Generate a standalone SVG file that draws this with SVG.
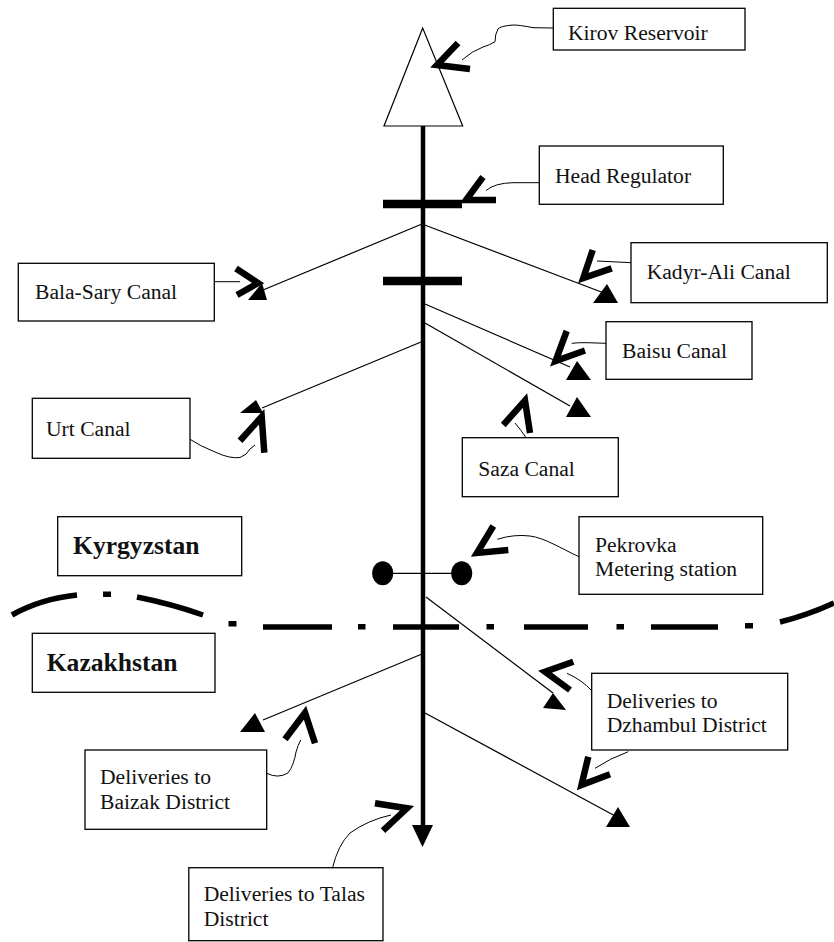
<svg xmlns="http://www.w3.org/2000/svg" width="834" height="942" viewBox="0 0 834 942">
<style>
.box{fill:#fff;stroke:#000;stroke-width:1.3}
.t{font-family:"Liberation Serif","Times New Roman",serif;font-size:21.6px;fill:#111}
.b{font-family:"Liberation Serif","Times New Roman",serif;font-size:25.6px;font-weight:bold;fill:#111}
.thin{fill:none;stroke:#000;stroke-width:1.2}
.lead{fill:none;stroke:#000;stroke-width:1}
.chev{fill:none;stroke:#000;stroke-width:6.5;stroke-linejoin:miter;stroke-linecap:butt}
.ah{fill:#000}
.bar{stroke:#000;stroke-width:8.5}
.border{fill:none;stroke:#000;stroke-width:5.5}
</style>
<rect width="834" height="942" fill="#fff"/>

<g id="river">
<polygon points="422.7,28 384,126 462.7,126" fill="#fff" stroke="#000" stroke-width="1.2"/>
<line x1="423" y1="126" x2="423" y2="827" stroke="#000" stroke-width="4.5"/>
<polygon class="ah" points="412,825 433,825 422.5,847"/>
<line class="bar" x1="383" y1="204" x2="462" y2="204"/>
<line class="bar" x1="383" y1="281" x2="462" y2="281"/>
</g>

<g id="border">
<path class="border" d="M12,615 Q40,599 77,595"/>
<rect x="103" y="591.5" width="8" height="5.5"/>
<path class="border" d="M137,597 Q172,604 203,615"/>
<rect x="228.5" y="621" width="8" height="5.5"/>
<line class="border" x1="263" y1="627" x2="332" y2="627"/>
<rect x="358" y="624" width="7.5" height="5.5"/>
<line class="border" x1="393" y1="627" x2="459" y2="627" stroke-width="6.5"/>
<rect x="486.5" y="624" width="7.5" height="5.5"/>
<line class="border" x1="524" y1="627" x2="588" y2="627"/>
<rect x="616.5" y="624" width="7.5" height="5.5"/>
<line class="border" x1="651" y1="627" x2="718" y2="627"/>
<rect x="745" y="623" width="8" height="5.5"/>
<path class="border" d="M780,622 Q808,615 834,603"/>
</g>

<g id="connectors">
<line class="thin" x1="422" y1="224" x2="604" y2="293"/>
<polygon class="ah" points="593,303 618,303 607,284"/>
<line class="thin" x1="422" y1="224" x2="263" y2="290"/>
<polygon class="ah" points="248,300 267,300 262,283"/>
<line class="thin" x1="425" y1="304" x2="570" y2="367"/>
<polygon class="ah" points="566,380 591,380 577,361"/>
<line class="thin" x1="425" y1="323" x2="570" y2="406"/>
<polygon class="ah" points="566,417 591,417 577,397"/>
<line class="thin" x1="421" y1="342" x2="262" y2="408"/>
<polygon class="ah" points="240,413 263,413 256,400"/>
<line class="thin" x1="383" y1="573.3" x2="462" y2="573.3"/>
<line class="thin" x1="426" y1="597" x2="553" y2="693"/>
<polygon class="ah" points="543,708 566,710 553,693"/>
<line class="thin" x1="422" y1="654" x2="263" y2="720"/>
<polygon class="ah" points="240,732 265,732 255,713"/>
<line class="thin" x1="425" y1="713" x2="617" y2="817"/>
<polygon class="ah" points="606,827 630,827 618,807"/>
</g>

<g id="station">
<ellipse cx="382.7" cy="573.3" rx="10.5" ry="12"/>
<ellipse cx="461.7" cy="573.3" rx="10.5" ry="12"/>
</g>

<g id="kirov">
<rect class="box" x="553.3" y="8.3" width="191.7" height="41.7"/>
<text class="t" x="568" y="39.5">Kirov Reservoir</text>
<path class="lead" d="M553,28 L533,27.7 Q520,25 513,25 Q500,26 498,29 Q495,34 495,41.7 Q490,45 483,47 Q472,51 462,60"/>
<polyline class="chev" points="458,43 437,65 470,69"/>
</g>

<g id="head-regulator">
<rect class="box" x="539.3" y="146" width="184" height="58.3"/>
<text class="t" x="555" y="182.5">Head Regulator</text>
<path class="lead" d="M539,182.7 L513,182.7 Q495,183 486,190.5"/>
<polyline class="chev" points="483,177 466,200 496,200"/>
</g>

<g id="kadyr-ali">
<rect class="box" x="631" y="242.7" width="196.3" height="60"/>
<text class="t" x="646.7" y="279">Kadyr-Ali Canal</text>
<path class="lead" d="M631,262.7 L597,261"/>
<polyline class="chev" points="592.7,250 583.3,278 611.7,268.3"/>
</g>

<g id="bala-sary">
<rect class="box" x="18.3" y="263.3" width="196" height="57.7"/>
<text class="t" x="35" y="298.5">Bala-Sary Canal</text>
<path class="lead" d="M214.3,281.7 L240,281.7"/>
<polyline class="chev" points="236,268.5 258,283 237,295"/>
</g>

<g id="baisu">
<rect class="box" x="606" y="321.7" width="146" height="57.6"/>
<text class="t" x="622" y="357.5">Baisu Canal</text>
<path class="lead" d="M606,343.3 L587,342.7 Q578,342.5 571.7,343.3"/>
<polyline class="chev" points="566.7,331 555.5,361 585,350.5"/>
</g>

<g id="saza">
<rect class="box" x="462.3" y="437.7" width="156" height="59"/>
<text class="t" x="478.3" y="475.5">Saza Canal</text>
<path class="lead" d="M526,437.7 Q521,430 515,423"/>
<polyline class="chev" points="503.3,425 525,400.5 530,433"/>
</g>

<g id="urt">
<rect class="box" x="32.3" y="398.3" width="157.7" height="60"/>
<text class="t" x="46" y="436">Urt Canal</text>
<path class="lead" d="M190,439.3 Q200,446 215,452 Q230,459 240,457.5 Q247,455 250,449 L255,445"/>
<polyline class="chev" points="240,440.7 261.7,416.7 264.3,452.7"/>
</g>

<g id="kyrgyzstan">
<rect class="box" x="57.7" y="516.7" width="184" height="59"/>
<text class="b" x="73" y="554.3">Kyrgyzstan</text>
</g>

<g id="pekrovka">
<rect class="box" x="579" y="516.7" width="183.7" height="77.6"/>
<text class="t" x="595" y="551.7">Pekrovka</text>
<text class="t" x="595" y="576">Metering station</text>
<path class="lead" d="M579,556.7 C560,548 545,538 530,536 Q514,534 497.3,539.3"/>
<polyline class="chev" points="493.3,526 477,553 508.3,550"/>
</g>

<g id="kazakhstan">
<rect class="box" x="32.3" y="633.3" width="182.7" height="59"/>
<text class="b" x="46.7" y="670.7">Kazakhstan</text>
</g>

<g id="dzhambul">
<rect class="box" x="591.7" y="673.3" width="196" height="76.7"/>
<text class="t" x="606.7" y="707.7">Deliveries to</text>
<text class="t" x="606.7" y="731.7">Dzhambul District</text>
<path class="lead" d="M591.7,690.7 Q582,680 567,673.3"/>
<polyline class="chev" points="573.3,661.7 545,671.7 570,690"/>
<path class="lead" d="M628.3,751.7 Q610,758.3 595,768.3"/>
<polyline class="chev" points="588.3,756.7 581.5,785 610,774.3"/>
</g>

<g id="baizak">
<rect class="box" x="85" y="750" width="181.7" height="79.3"/>
<text class="t" x="100" y="784">Deliveries to</text>
<text class="t" x="100" y="808.5">Baizak District</text>
<path class="lead" d="M266.7,773.3 Q278,779 288,773 Q294,765 296,752 Q298,745 300.7,740"/>
<polyline class="chev" points="285,739.3 305,712.7 315,743.3"/>
</g>

<g id="talas">
<rect class="box" x="188.8" y="867.7" width="194.2" height="73"/>
<text class="t" x="203.7" y="901">Deliveries to Talas</text>
<text class="t" x="203.7" y="926">District</text>
<path class="lead" d="M332.4,868.3 Q338,845 350,833 Q368,820 391,815"/>
<polyline class="chev" points="375,803.3 407,808.3 383,830.7"/>
</g>
</svg>
